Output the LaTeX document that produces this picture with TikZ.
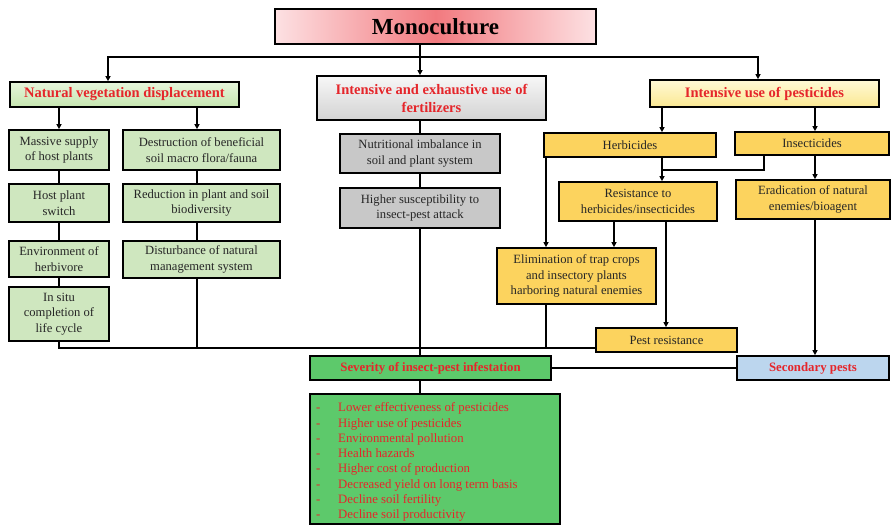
\documentclass[tikz,border=0pt]{standalone}
\usepackage{fontspec}
\setmainfont{Liberation Serif}
\usetikzlibrary{arrows.meta}

\definecolor{hdrred}{HTML}{E5262B}
\definecolor{txtgray}{HTML}{262626}
\definecolor{pinkL}{HTML}{FDE1E3}
\definecolor{pinkM}{HTML}{F27A7F}
\definecolor{natT}{HTML}{E6F5DB}
\definecolor{natB}{HTML}{C6E6B0}
\definecolor{leafgreen}{HTML}{CFE7BF}
\definecolor{fertT}{HTML}{F7F7F7}
\definecolor{fertB}{HTML}{D3D3D3}
\definecolor{stone}{HTML}{C8C8C8}
\definecolor{pestT}{HTML}{FFF9D6}
\definecolor{pestB}{HTML}{FBE892}
\definecolor{gold}{HTML}{FCD35E}
\definecolor{grass}{HTML}{5DC96B}
\definecolor{sky}{HTML}{BCD6EE}

\tikzset{
  box/.style={draw=black, line width=1.7pt, inner sep=1pt, align=center,
    text=txtgray, font=\fontsize{12.6}{15.5}\selectfont},
  hdr/.style={box, text=hdrred, font=\fontsize{14.5}{18}\selectfont\bfseries},
  subhdr/.style={box, text=hdrred, font=\fontsize{12.8}{15}\selectfont\bfseries},
  greenbox/.style={box, fill=leafgreen},
  graybox/.style={box, fill=stone},
  goldbox/.style={box, fill=gold},
  ln/.style={line width=1.6pt, draw=black},
  arr/.style={ln, -{Triangle[length=5pt,width=5pt]}},
}

\begin{document}
\begin{tikzpicture}[x=1pt, y=-1pt]
\useasboundingbox (0,0) rectangle (891,526);

% top level
\node[box, minimum width=321, minimum height=35, left color=pinkL, right color=pinkL,
      middle color=pinkM, text=black, font=\fontsize{23}{26}\selectfont\bfseries]
  (mono) at (435.5,26.5) {Monoculture};

\node[hdr, minimum width=229, minimum height=25, top color=natT, bottom color=natB]
  (nat) at (124.5,94.5) {Natural vegetation displacement};
\node[hdr, minimum width=229, minimum height=44, top color=fertT, bottom color=fertB]
  (fert) at (431.5,98) {Intensive and exhaustive use of\\fertilizers};
\node[hdr, minimum width=229, minimum height=27, top color=pestT, bottom color=pestB]
  (pest) at (764.5,93.5) {Intensive use of pesticides};

% vegetation branch
\node[greenbox, minimum width=100, minimum height=40] (m1) at (59,150) {Massive supply\\of host plants};
\node[greenbox, minimum width=100, minimum height=38] (m2) at (59,203) {Host plant\\switch};
\node[greenbox, minimum width=100, minimum height=36] (m3) at (59,259) {Environment of\\herbivore};
\node[greenbox, minimum width=100, minimum height=54] (m4) at (59,314) {In situ\\completion of\\life cycle};

\node[greenbox, minimum width=157, minimum height=40] (d1) at (201.5,150) {Destruction of beneficial\\soil macro flora/fauna};
\node[greenbox, minimum width=157, minimum height=38] (d2) at (201.5,203) {Reduction in plant and soil\\biodiversity};
\node[greenbox, minimum width=157, minimum height=37] (d3) at (201.5,259.5) {Disturbance of natural\\management system};

% fertilizer branch
\node[graybox, minimum width=160, minimum height=39] (g1) at (420,153.5) {Nutritional imbalance in\\soil and plant system};
\node[graybox, minimum width=160, minimum height=40] (g2) at (420,208) {Higher susceptibility to\\insect-pest attack};

% pesticide branch
\node[goldbox, minimum width=172, minimum height=24] (herb) at (630,145) {Herbicides};
\node[goldbox, minimum width=154, minimum height=23] (ins) at (812,143.5) {Insecticides};
\node[goldbox, minimum width=158, minimum height=39] (res) at (638,201.5) {Resistance to\\herbicides/insecticides};
\node[goldbox, minimum width=154, minimum height=39] (era) at (813,199.5) {Eradication of natural\\enemies/bioagent};
\node[goldbox, minimum width=159, minimum height=56] (elim) at (576.5,276) {Elimination of trap crops\\and insectory plants\\harboring natural enemies};
\node[goldbox, minimum width=141, minimum height=24] (pr) at (666.5,340) {Pest resistance};

% outcome
\node[subhdr, fill=grass, minimum width=241, minimum height=24] (sev) at (430.5,368) {Severity of insect-pest infestation};
\node[subhdr, fill=sky, minimum width=152, minimum height=24] (sec) at (813,368) {Secondary pests};
\node[box, fill=grass, minimum width=250, minimum height=130] (list) at (435,459) {};
\node[anchor=north west, inner sep=0pt, text=hdrred, align=left,
      font=\fontsize{12.8}{15.3}\selectfont] (items) at (316,402.5) {%
  \makebox[22pt][l]{-}Lower effectiveness of pesticides\\
  \makebox[22pt][l]{-}Higher use of pesticides\\
  \makebox[22pt][l]{-}Environmental pollution\\
  \makebox[22pt][l]{-}Health hazards\\
  \makebox[22pt][l]{-}Higher cost of production\\
  \makebox[22pt][l]{-}Decreased yield on long term basis\\
  \makebox[22pt][l]{-}Decline soil fertility\\
  \makebox[22pt][l]{-}Decline soil productivity};

% junction points
\coordinate (busT) at (420,57);
\coordinate (busTL) at (108,57);
\coordinate (busTR) at (758,57);
\coordinate (busB) at (59,348);
\coordinate (xh) at (662,0);
\coordinate (xi) at (815,0);
\coordinate (xe) at (546,0);
\coordinate (xr1) at (614,0);
\coordinate (xr2) at (666,0);
\coordinate (jIns) at (764,170);

% from monoculture
\draw[ln] (mono.south -| busT) -- (busT);
\draw[arr] (busT) -- (busT |- fert.north);
\draw[arr] (busT) -- (busTL) -- (busTL |- nat.north);
\draw[arr] (busT) -- (busTR) -- (busTR |- pest.north);

% vegetation chains
\draw[arr] (nat.south -| m1) -- (m1.north);
\draw[arr] ([xshift=-4.5pt]nat.south -| d1) -- ([xshift=-4.5pt]d1.north);
\draw[ln] (m1.south) -- (m2.north);
\draw[ln] (m2.south) -- (m3.north);
\draw[ln] (m3.south) -- (m4.north);
\draw[ln] ([xshift=-4.5pt]d1.south) -- ([xshift=-4.5pt]d2.north);
\draw[ln] ([xshift=-4.5pt]d2.south) -- ([xshift=-4.5pt]d3.north);
\draw[ln] ([xshift=-4.5pt]d3.south) -- ([xshift=-4.5pt]d3.south |- busB);
\draw[ln] (m4.south) -- (busB) -- (busB -| pr.west);

% fertilizer chain
\draw[ln] (fert.south -| g1) -- (g1.north);
\draw[ln] (g1.south) -- (g2.north);
\draw[ln] (g2.south) -- (g2.south |- sev.north);

% pesticide chains
\draw[arr] (pest.south -| xh) -- (herb.north -| xh);
\draw[arr] (pest.south -| xi) -- (ins.north -| xi);
\draw[arr] (herb.south -| xh) -- (res.north -| xh);
\draw[ln] (ins.south -| jIns) -- (jIns) -- (jIns -| xh);
\draw[arr] (ins.south -| xi) -- (era.north -| xi);
\draw[arr] (herb.south -| xe) -- (elim.north -| xe);
\draw[arr] (res.south -| xr1) -- (elim.north -| xr1);
\draw[arr] (res.south -| xr2) -- (pr.north -| xr2);
\draw[ln] (elim.south -| xe) -- (busB -| xe);
\draw[arr] (era.south -| xi) -- (sec.north -| xi);

% outcome links
\draw[ln] (sev.east) -- (sec.west);
\draw[ln] (sev.south -| g2) -- (list.north -| g2);
\end{tikzpicture}
\end{document}
